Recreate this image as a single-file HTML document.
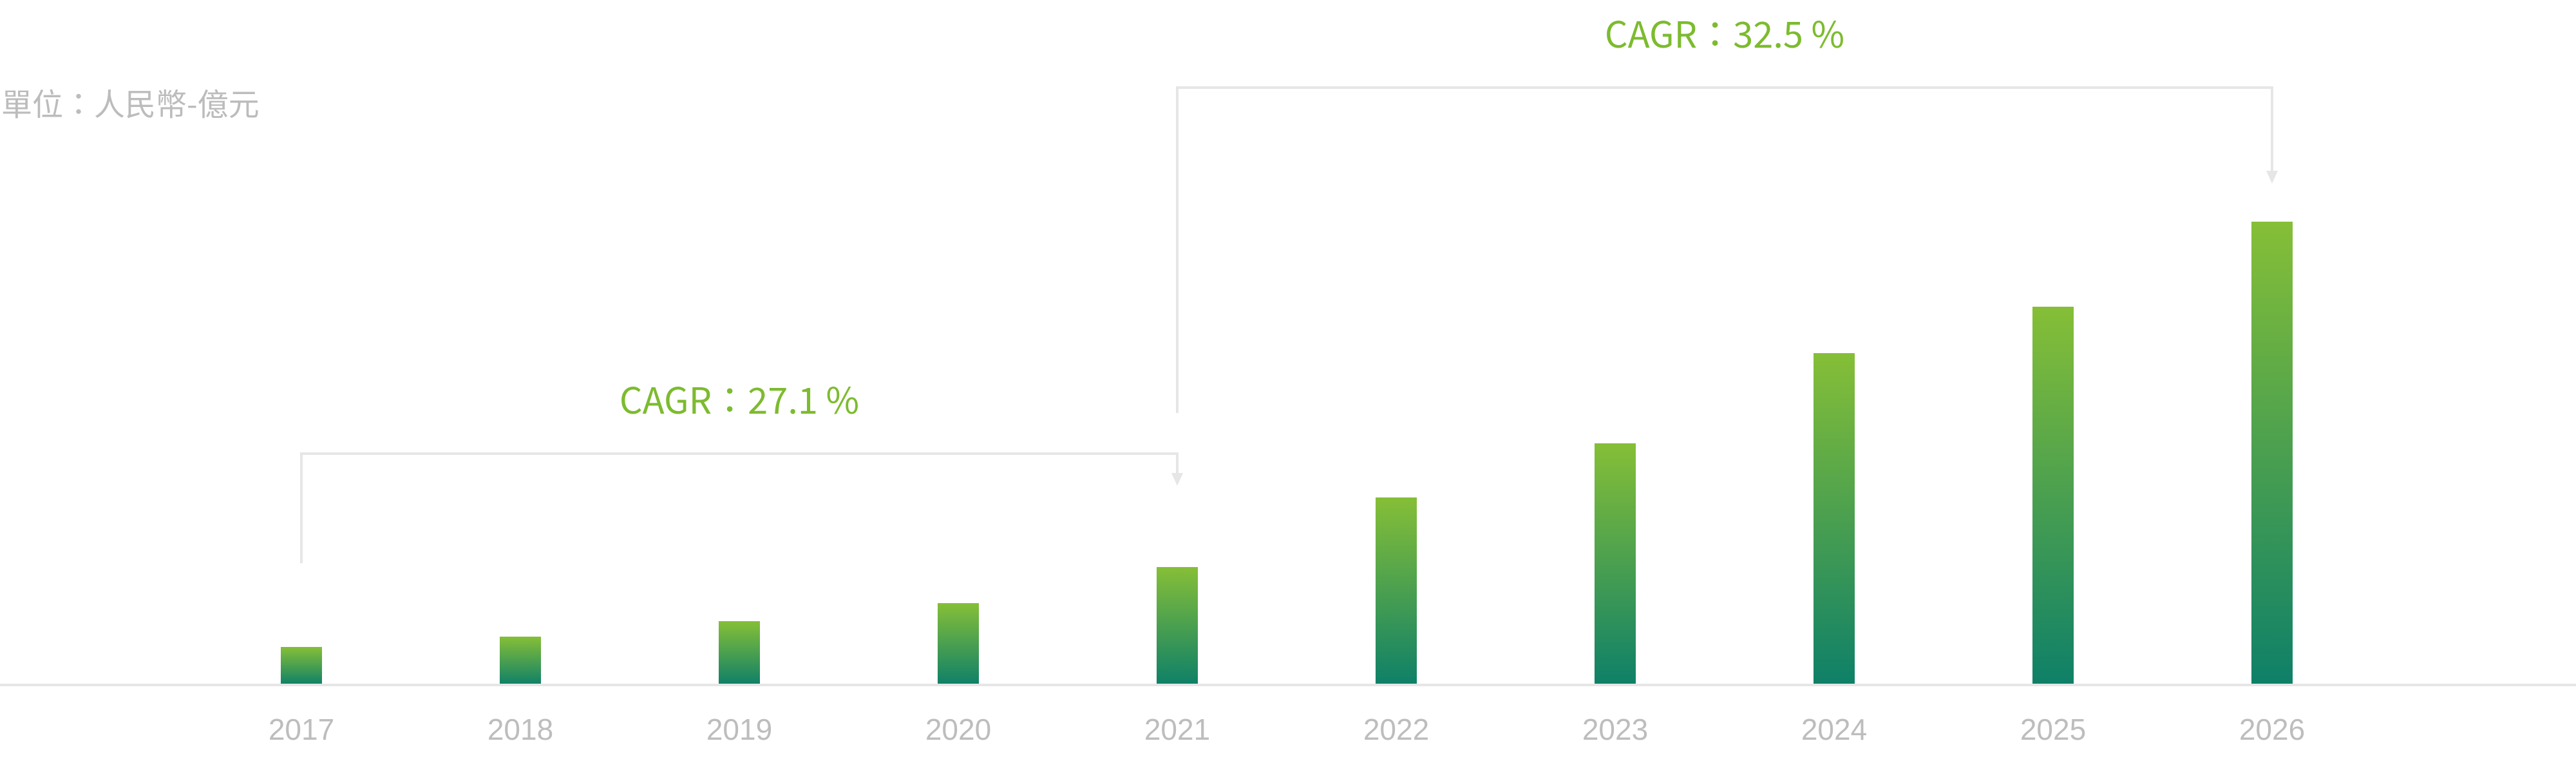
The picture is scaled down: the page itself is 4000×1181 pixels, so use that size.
<!DOCTYPE html>
<html><head><meta charset="utf-8">
<style>
html,body{margin:0;padding:0;background:#fff;}
body{width:4000px;height:1176px;overflow:hidden;}
svg text{font-family:"Liberation Sans","Noto Sans CJK TC",sans-serif;}
</style></head>
<body>
<svg id="chart" width="4000" height="1176" viewBox="0 0 4000 1176" xmlns="http://www.w3.org/2000/svg">
<defs>
<linearGradient id="barGrad" x1="0" y1="0" x2="0" y2="1">
<stop offset="0" stop-color="#86bf37"/>
<stop offset="1" stop-color="#0e8068"/>
</linearGradient>
</defs>
<text x="2" y="179" font-size="48" fill="#bcbcbc" style="font-family:'Noto Sans CJK TC',sans-serif">單位：人民幣-億元</text>
<g id="bars"></g>
<g id="labels"></g>
<line x1="0" y1="1063" x2="4000" y2="1063" stroke="#e6e6e6" stroke-width="4"/>
<g id="brackets"></g>
</svg>
<script>
const categories = ["2017","2018","2019","2020","2021","2022","2023","2024","2025","2026"];
const values = [59, 75, 99, 127, 183, 291, 375, 515, 587, 719];
const cagrLabels = ["CAGR：27.1 %", "CAGR：32.5 %"];
const cagrFrom = [0, 4];
const cagrTo = [4, 9];

const NS = "http://www.w3.org/2000/svg";
const baseY = 1063, x0 = 468, step = 340, barW = 64;
const xPos = i => x0 + i * step;
const yScale = v => baseY - v * 1.0;

const barsG = document.getElementById('bars');
const labelsG = document.getElementById('labels');
categories.forEach((c, i) => {
  const r = document.createElementNS(NS, 'rect');
  
  
  r.setAttribute('x', xPos(i) - barW / 2);
  r.setAttribute('y', yScale(values[i]));
  r.setAttribute('width', barW);
  r.setAttribute('height', baseY - yScale(values[i]));
  r.setAttribute('fill', 'url(#barGrad)');
  barsG.appendChild(r);
  const t = document.createElementNS(NS, 'text');
  
  
  t.setAttribute('x', xPos(i));
  t.setAttribute('y', 1148);
  t.setAttribute('text-anchor', 'middle');
  t.setAttribute('font-size', '46');
  t.setAttribute('fill', '#bdbdbd');
  t.textContent = c;
  labelsG.appendChild(t);
});

const brG = document.getElementById('brackets');
const bracketTopY = [704, 136];
const bracketLeftBottom = [874, 641];
const arrowTipY = [754, 285];
const textY = [642, 74];
cagrLabels.forEach((lab, k) => {
  const xa = xPos(cagrFrom[k]), xb = xPos(cagrTo[k]);
  const topY = bracketTopY[k];
  const arrowTip = arrowTipY[k];
  const p = document.createElementNS(NS, 'path');
  
  
  p.setAttribute('d', `M${xa},${bracketLeftBottom[k]} V${topY} H${xb} V${arrowTip - 14}`);
  p.setAttribute('fill', 'none');
  p.setAttribute('stroke', '#e6e6e6');
  p.setAttribute('stroke-width', '4');
  brG.appendChild(p);
  const a = document.createElementNS(NS, 'path');
  
  
  a.setAttribute('d', `M${xb - 9},${arrowTip - 20} L${xb + 9},${arrowTip - 20} L${xb},${arrowTip} Z`);
  a.setAttribute('fill', '#e6e6e6');
  brG.appendChild(a);
  const t = document.createElementNS(NS, 'text');
  
  
  t.setAttribute('x', (xa + xb) / 2);
  t.setAttribute('y', textY[k]);
  t.setAttribute('text-anchor', 'middle');
  t.setAttribute('font-size', '56');
  t.setAttribute('fill', '#7dbb2f');
  t.setAttribute('style', "font-family:'Noto Sans CJK TC',sans-serif");
  t.textContent = lab;
  brG.appendChild(t);
});
</script>
</body></html>
